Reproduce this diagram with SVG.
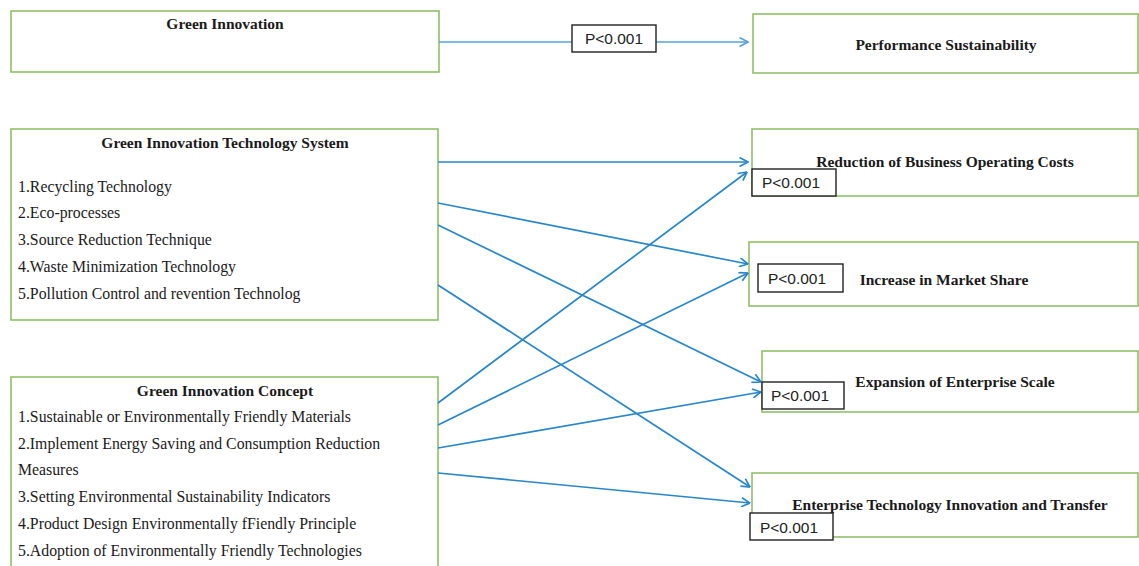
<svg xmlns="http://www.w3.org/2000/svg" width="1139" height="566" viewBox="0 0 1139 566">
<defs>
<style>
.box{fill:#fff;stroke:#8fbf68;stroke-width:1.6}
.t{font-family:"Liberation Serif","Times New Roman",serif;font-size:15.8px;fill:#1a1a1a}
.b{font-weight:bold;font-size:15.5px;text-anchor:middle}
.c{stroke:#2886c9;stroke-width:1.7;fill:none;marker-end:url(#ah)}
.ct{stroke:#5aa0d6;stroke-width:1.5;marker-end:url(#ah2)}
.lb{fill:#fff;stroke:#222;stroke-width:1.4}
.lt{font-family:"Liberation Sans",Arial,sans-serif;font-size:15.5px;fill:#222;text-anchor:middle}
</style>
<marker id="ah" viewBox="0 0 10 10" refX="9.5" refY="5" markerWidth="10" markerHeight="10" markerUnits="userSpaceOnUse" orient="auto">
<path d="M1,0.5 L9.5,5 L1,9.5" fill="none" stroke="#2886c9" stroke-width="1.7"/>
</marker>
<marker id="ah2" viewBox="0 0 10 10" refX="9.5" refY="5" markerWidth="10" markerHeight="10" markerUnits="userSpaceOnUse" orient="auto">
<path d="M1,0.5 L9.5,5 L1,9.5" fill="none" stroke="#5aa0d6" stroke-width="1.6"/>
</marker>
</defs>
<rect width="1139" height="566" fill="#fff"/>

<g id="green-innovation">
<rect class="box" x="11" y="11" width="428" height="61"/>
<text class="t b" x="225" y="29">Green Innovation</text>
</g>

<g id="performance-sustainability">
<rect class="box" x="753" y="14" width="385" height="59"/>
<text class="t b" x="946" y="50">Performance Sustainability</text>
</g>

<g id="gi-technology-system">
<rect class="box" x="11" y="129" width="427" height="191"/>
<text class="t b" x="225" y="148">Green Innovation Technology System</text>
<text class="t" x="18" y="192">1.Recycling Technology</text>
<text class="t" x="18" y="218">2.Eco-processes</text>
<text class="t" x="18" y="245">3.Source Reduction Technique</text>
<text class="t" x="18" y="272">4.Waste Minimization Technology</text>
<text class="t" x="18" y="299">5.Pollution Control and revention Technolog</text>
</g>

<g id="gi-concept">
<rect class="box" x="11" y="377" width="427" height="200"/>
<text class="t b" x="225" y="396">Green Innovation Concept</text>
<text class="t" x="18" y="422">1.Sustainable or Environmentally Friendly Materials</text>
<text class="t" x="18" y="449">2.Implement Energy Saving and Consumption Reduction</text>
<text class="t" x="18" y="475">Measures</text>
<text class="t" x="18" y="502">3.Setting Environmental Sustainability Indicators</text>
<text class="t" x="18" y="529">4.Product Design Environmentally fFiendly Principle</text>
<text class="t" x="18" y="556">5.Adoption of Environmentally Friendly Technologies</text>
</g>

<g id="reduction-costs">
<rect class="box" x="752" y="129" width="386" height="67"/>
<text class="t b" x="945" y="167">Reduction of Business Operating Costs</text>
</g>

<g id="market-share">
<rect class="box" x="749" y="242" width="389" height="64"/>
<text class="t b" x="944" y="285">Increase in Market Share</text>
</g>

<g id="enterprise-scale">
<rect class="box" x="762" y="351" width="376" height="61"/>
<text class="t b" x="955" y="387">Expansion of Enterprise Scale</text>
</g>

<g id="tech-innovation-transfer">
<rect class="box" x="752" y="473" width="386" height="64"/>
<text class="t b" x="950" y="510">Enterprise Technology Innovation and Transfer</text>
</g>

<g id="connectors">
<path class="c ct" d="M439,42 L748,42"/>
<path class="c" d="M438,162 L748,162"/>
<path class="c" d="M438,203 L748,264"/>
<path class="c" d="M438,225 L761,382"/>
<path class="c" d="M438,285 L750,487"/>
<path class="c" d="M438,403 L747,172"/>
<path class="c" d="M438,425 L748,273"/>
<path class="c" d="M438,448 L761,392"/>
<path class="c" d="M438,473 L750,503"/>
</g>

<g id="labels">
<rect class="lb" x="572" y="25" width="84" height="27"/>
<text class="lt" x="614" y="44">P&lt;0.001</text>
<rect class="lb" x="752" y="169" width="84" height="27"/>
<text class="lt" x="791" y="188">P&lt;0.001</text>
<rect class="lb" x="758" y="264" width="85" height="28"/>
<text class="lt" x="797" y="284">P&lt;0.001</text>
<rect class="lb" x="762" y="382" width="82" height="27"/>
<text class="lt" x="800" y="401">P&lt;0.001</text>
<rect class="lb" x="750" y="513" width="83" height="27"/>
<text class="lt" x="789" y="533">P&lt;0.001</text>
</g>
</svg>
